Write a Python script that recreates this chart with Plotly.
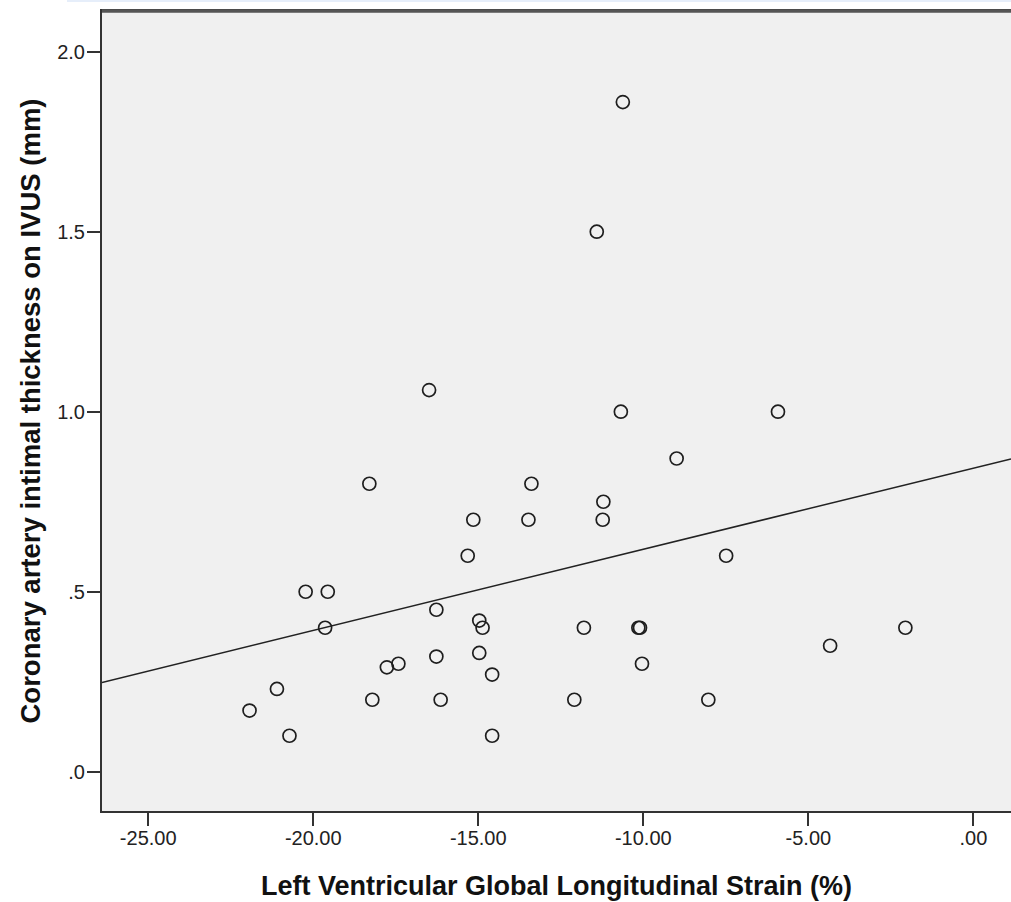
import numpy as np
import plotly.graph_objects as go

# Left Ventricular Global Longitudinal Strain (%)
gls = [-10.62, -11.41, -16.49, -10.68, -5.92, -8.99, -18.30, -13.39, -11.21, -15.15,
       -13.48, -11.23, -15.32, -7.49, -20.23, -19.56, -16.27, -14.97, -14.87, -19.64,
       -11.80, -10.15, -10.10, -2.06, -4.34, -14.97, -16.27, -17.42, -17.77, -10.04,
       -14.58, -21.10, -18.21, -16.14, -12.09, -8.03, -21.93, -20.72, -14.58]
# Coronary artery intimal thickness on IVUS (mm)
imt = [1.86, 1.50, 1.06, 1.00, 1.00, 0.87, 0.80, 0.80, 0.75, 0.70,
       0.70, 0.70, 0.60, 0.60, 0.50, 0.50, 0.45, 0.42, 0.40, 0.40,
       0.40, 0.40, 0.40, 0.40, 0.35, 0.33, 0.32, 0.30, 0.29, 0.30,
       0.27, 0.23, 0.20, 0.20, 0.20, 0.20, 0.17, 0.10, 0.10]

x_ticks = [-25, -20, -15, -10, -5, 0]
x_tick_text = ["-25.00", "-20.00", "-15.00", "-10.00", "-5.00", ".00"]
y_ticks = [0, 0.5, 1.0, 1.5, 2.0]
y_tick_text = [".0", ".5", "1.0", "1.5", "2.0"]

x_range = [-26.40, 1.14]
y_range = [-0.109, 2.113]

slope, intercept = np.polyfit(gls, imt, 1)
fit_x = np.array(x_range)
fit_y = intercept + slope * fit_x

fig = go.Figure()
fig.add_trace(go.Scatter(
    x=fit_x, y=fit_y, mode="lines",
    line=dict(color="#222222", width=1.5),
    hoverinfo="skip", showlegend=False))
fig.add_trace(go.Scatter(
    x=gls, y=imt, mode="markers",
    marker=dict(symbol="circle-open", size=13, color="#1e1e1e",
                line=dict(color="#1e1e1e", width=1.7)),
    showlegend=False))

font_family = "Liberation Sans, Arial, sans-serif"
fig.update_layout(
    width=1011, height=902,
    margin=dict(l=102, r=0, t=11, b=91),
    paper_bgcolor="white",
    plot_bgcolor="#f0f0f0",
    font=dict(family=font_family, color="#222222"),
    xaxis=dict(
        range=x_range, tickvals=x_ticks, ticktext=x_tick_text,
        showgrid=False, zeroline=False,
        showline=True, linecolor="#333333", linewidth=2, mirror=True,
        ticks="outside", ticklen=13, tickwidth=2, tickcolor="#333333",
        tickfont=dict(size=20, color="#222222"),
        ticklabelstandoff=-5,
        title=dict(text="Left Ventricular Global Longitudinal Strain (%)",
                   font=dict(size=27, color="#111111", weight="bold"),
                   standoff=28),
    ),
    yaxis=dict(
        range=y_range, tickvals=y_ticks, ticktext=y_tick_text,
        showgrid=False, zeroline=False,
        showline=True, linecolor="#333333", linewidth=2,
        ticks="outside", ticklen=13, tickwidth=2, tickcolor="#333333",
        tickfont=dict(size=20, color="#222222"),
        ticklabelstandoff=-2,
        title=dict(text="Coronary artery intimal thickness on IVUS (mm)",
                   font=dict(size=27.5, color="#111111", weight="bold"),
                   standoff=9),
    ),
    shapes=[
        dict(type="rect", xref="paper", yref="paper",
             x0=-0.0385, x1=1.0, y0=1.0113, y1=1.014,
             fillcolor="#e6eefa", line=dict(width=0), layer="below"),
        dict(type="line", xref="paper", yref="paper",
             x0=0, x1=1.0, y0=1.0, y1=1.0,
             line=dict(color="#555555", width=3.5), layer="above"),
    ],
)

fig.write_html(
    "out.html",
    config={"displayModeBar": False},
    post_script="document.body.style.margin='0';"
                "document.documentElement.style.overflow='hidden';",
)
